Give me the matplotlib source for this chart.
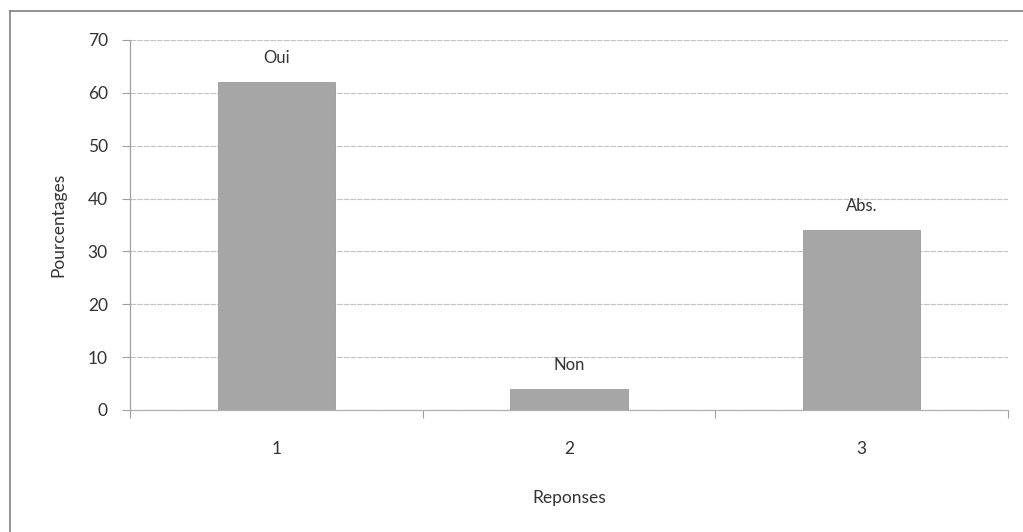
import matplotlib
matplotlib.use("Agg")
import matplotlib.pyplot as plt
from matplotlib.lines import Line2D

plt.rcParams['font.family'] = ['Lato', 'DejaVu Sans']

categories = [1, 2, 3]
values = [62, 4, 34]
bar_labels = ["Oui", "Non", "Abs."]
y_ticks = [0, 10, 20, 30, 40, 50, 60, 70]

W, H = 1023, 532
fig = plt.figure(figsize=(W / 100, H / 100), dpi=100)
fig.patch.set_facecolor("white")

left, right, top, bottom = 130, 1008, 40, 410
ax = fig.add_axes([left / W, 1 - bottom / H, (right - left) / W, (bottom - top) / H])

x = list(range(len(categories)))
bars = ax.bar(x, values, width=0.4, color="#a6a6a6", edgecolor="#9c9c9c",
              linewidth=0.6, zorder=3)

text_color = "#333333"
for rect, lab in zip(bars, bar_labels):
    ax.annotate(lab, (rect.get_x() + rect.get_width() / 2, rect.get_height()),
                xytext=(0, 17.5), textcoords="offset points",
                ha="center", va="center", fontsize=12, color=text_color)

ax.set_xlim(-0.5, len(categories) - 0.5)
ax.set_ylim(0, 70)
ax.set_yticks(y_ticks)
ax.set_yticklabels([str(v) for v in y_ticks])
ax.set_xticks(x)
ax.set_xticklabels([str(c) for c in categories])

# category separators on the x axis
ax.set_xticks([i + 0.5 for i in range(-1, len(categories))], minor=True)
ax.tick_params(axis="x", which="major", length=0, pad=22, labelsize=12.5,
               labelcolor=text_color)
ax.tick_params(axis="x", which="minor", length=6, width=0.8, color="#a0a0a0")
ax.tick_params(axis="y", length=6, width=0.8, color="#a0a0a0", pad=10,
               labelsize=12.5, labelcolor=text_color)

ax.grid(axis="y", color="#c2c2c2", linewidth=0.8, linestyle=(0, (5, 1)), zorder=0)
ax.set_axisbelow(True)

for side in ("top", "right"):
    ax.spines[side].set_visible(False)
ax.spines["left"].set_color("#a0a0a0")
ax.spines["left"].set_linewidth(0.9)
ax.spines["bottom"].set_color("#b0b0b0")
ax.spines["bottom"].set_linewidth(0.9)

ax.set_xlabel("Reponses", fontsize=12.5, color=text_color, labelpad=24)
ax.set_ylabel("Pourcentages", fontsize=12.5, color=text_color, labelpad=15)

# outer chart frame (left and top edges)
fig.add_artist(Line2D([10 / W, 10 / W], [0, 1 - 11 / H], transform=fig.transFigure,
                      color="#808080", linewidth=1.2))
fig.add_artist(Line2D([10 / W, 1], [1 - 11 / H, 1 - 11 / H], transform=fig.transFigure,
                      color="#808080", linewidth=1.2))

fig.savefig("out.png", dpi=100)
